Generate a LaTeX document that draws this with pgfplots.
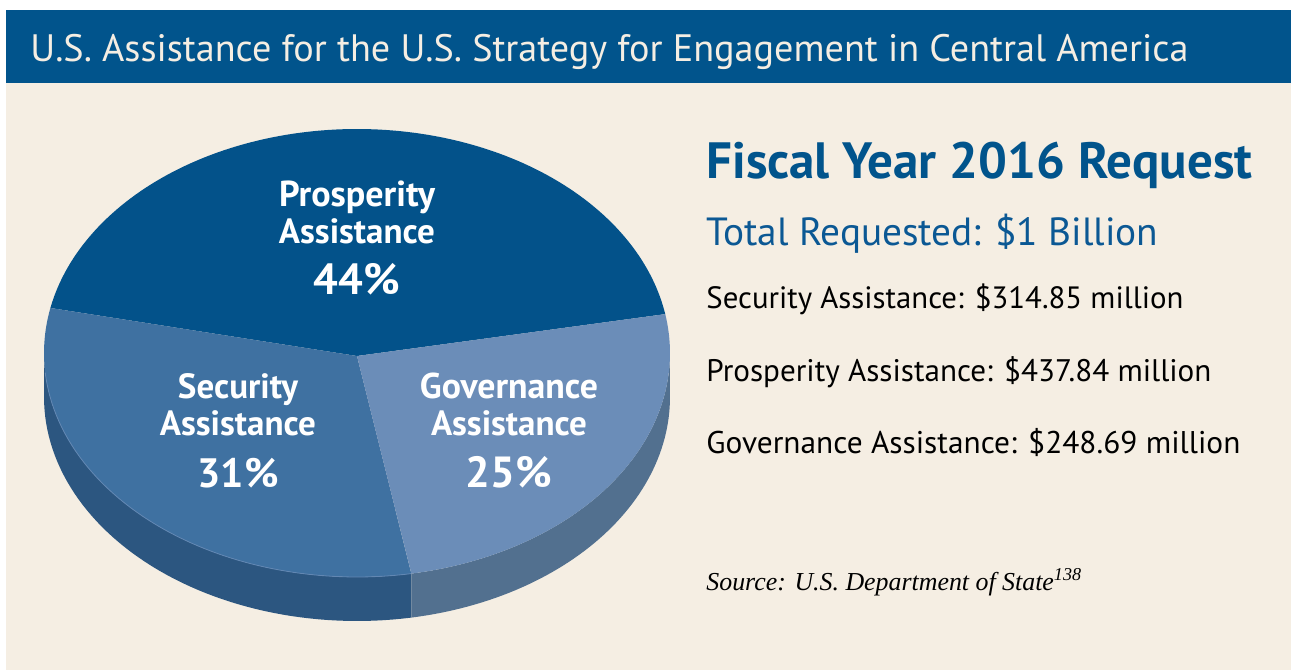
\documentclass[border=0pt]{standalone}
\usepackage{pgfplots}
\pgfplotsset{compat=1.18}
\usepgfplotslibrary{fillbetween}
\usepackage{pgfplotstable}
\usepackage{graphicx}
\usepackage{fontspec}
\setmainfont{PT Sans}
\newfontfamily\srcfont{Liberation Serif}

\definecolor{barblue}{HTML}{01548C}
\definecolor{bg}{HTML}{F5EEE3}
\definecolor{pros}{HTML}{03528A}
\definecolor{secu}{HTML}{3F71A1}
\definecolor{gov}{HTML}{6B8DB8}
\definecolor{secuside}{HTML}{2C5680}
\definecolor{govside}{HTML}{52708F}
\definecolor{totblue}{HTML}{0B5894}

\pgfplotstableread{
name value
Prosperity 44
Security 31
Governance 25
}\pietable

\newdimen\pxu \pxu=0.5pt
% width in px (1px = 0.5pt)
\newcommand{\fitw}[2]{\resizebox{#1\pxu}{!}{#2}}

\begin{document}
\begin{tikzpicture}
\pgfplotstablegetelem{0}{value}\of\pietable \let\vP\pgfplotsretval
\pgfplotstablegetelem{1}{value}\of\pietable \let\vS\pgfplotsretval
\pgfplotstablegetelem{2}{value}\of\pietable \let\vG\pgfplotsretval
\pgfmathsetmacro\aA{10}
\pgfmathsetmacro\aB{\aA+3.6*\vP}
\pgfmathsetmacro\aC{\aB+3.6*\vS}
\pgfmathsetmacro\aD{\aC+3.6*\vG}
\begin{axis}[
  scale only axis, width=645.5pt, height=335.5pt,
  xmin=0, xmax=1291, ymin=0, ymax=671, y dir=reverse,
  hide axis, clip=false, set layers,
]
% background
\addplot[draw=none, fill=white, on layer=axis background] coordinates {(0,0) (1291,0) (1291,671) (0,671)} -- cycle;
\addplot[draw=none, fill=bg, on layer=axis background] coordinates {(6,83) (1291,83) (1291,670) (6,670)} -- cycle;
\addplot[draw=none, fill=barblue, on layer=axis background] coordinates {(6,10) (1291,10) (1291,83) (6,83)} -- cycle;

% side walls
\addplot[draw=none, name path=s1, domain=180:\aC, samples=60] ({357+313*cos(x)},{353-224*sin(x)});
\addplot[draw=none, name path=s2, domain=180:\aC, samples=60] ({357+313*cos(x)},{397-224*sin(x)});
\addplot[secuside] fill between[of=s1 and s2];
\addplot[draw=none, name path=g1, domain=\aC:360, samples=60] ({357+313*cos(x)},{353-224*sin(x)});
\addplot[draw=none, name path=g2, domain=\aC:360, samples=60] ({357+313*cos(x)},{397-224*sin(x)});
\addplot[govside] fill between[of=g1 and g2];

% top faces
\addplot[draw=none, fill=pros, domain=\aA:\aB, samples=120] ({357+313*cos(x)},{353-224*sin(x)}) -- (axis cs:357,356) -- cycle;
\addplot[draw=none, fill=secu, domain=\aB:\aC, samples=100] ({357+313*cos(x)},{353-224*sin(x)}) -- (axis cs:357,356) -- cycle;
\addplot[draw=none, fill=gov, domain=\aC:\aD, samples=100] ({357+313*cos(x)},{353-224*sin(x)}) -- (axis cs:357,356) -- cycle;
% faint rim highlight
\addplot[draw=gov!80!secu, line width=0.4pt, domain=185:\aC, samples=60] ({357+313*cos(x)},{353-224*sin(x)});

% pie labels
\node[anchor=base, text=white, font=\bfseries, inner sep=0pt] at (axis cs:357,206) {\fitw{156}{Prosperity}};
\node[anchor=base, text=white, font=\bfseries, inner sep=0pt] at (axis cs:357,243) {\fitw{156}{Assistance}};
\node[anchor=base, text=white, font=\bfseries, inner sep=0pt] at (axis cs:357,294) {\fitw{86}{44\%}};
\node[anchor=base, text=white, font=\bfseries, inner sep=0pt] at (axis cs:238,398) {\fitw{120}{Security}};
\node[anchor=base, text=white, font=\bfseries, inner sep=0pt] at (axis cs:238,435) {\fitw{156}{Assistance}};
\node[anchor=base, text=white, font=\bfseries, inner sep=0pt] at (axis cs:238,487) {\fitw{81}{31\%}};
\node[anchor=base, text=white, font=\bfseries, inner sep=0pt] at (axis cs:509,398) {\fitw{178}{Governance}};
\node[anchor=base, text=white, font=\bfseries, inner sep=0pt] at (axis cs:509,435) {\fitw{156}{Assistance}};
\node[anchor=base, text=white, font=\bfseries, inner sep=0pt] at (axis cs:509,487) {\fitw{86}{25\%}};

% title
\node[anchor=base west, text=bg, inner sep=0pt] at (axis cs:30,62) {\fitw{1158}{U.S. Assistance for the U.S. Strategy for Engagement in Central America}};

% right text
\node[anchor=base west, text=barblue, inner sep=0pt, font=\bfseries] at (axis cs:706,178) {\fitw{546}{Fiscal Year 2016 Request}};
\node[anchor=base west, text=totblue, inner sep=0pt] at (axis cs:706,245) {\fitw{452}{Total Requested: \$1 Billion}};
\node[anchor=base west, text=black, inner sep=0pt] at (axis cs:706,308) {\fitw{477}{Security Assistance: \$314.85 million}};
\node[anchor=base west, text=black, inner sep=0pt] at (axis cs:706,381) {\fitw{505}{Prosperity Assistance: \$437.84 million}};
\node[anchor=base west, text=black, inner sep=0pt] at (axis cs:706,453) {\fitw{534}{Governance Assistance: \$248.69 million}};
\node[anchor=base west, text=black, inner sep=0pt] at (axis cs:706,590) {\fitw{376}{\srcfont\itshape Source: U.S. Department of State\textsuperscript{138}}};
\end{axis}
\end{tikzpicture}
\end{document}
